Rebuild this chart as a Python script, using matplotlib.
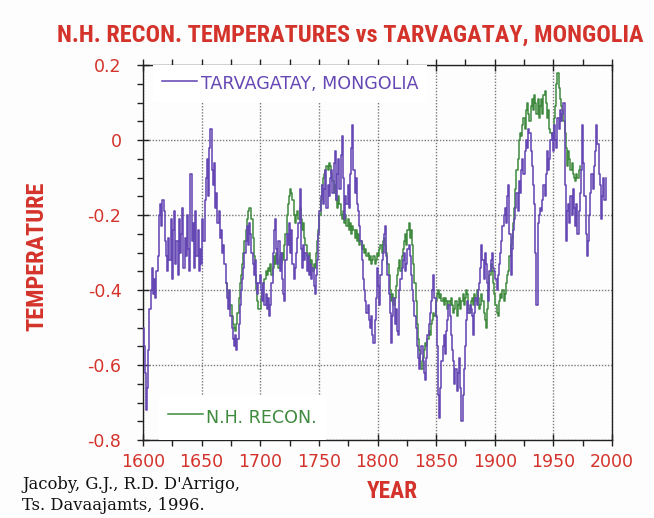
import matplotlib
matplotlib.use("Agg")
import matplotlib.pyplot as plt
from matplotlib import font_manager
from matplotlib.ticker import MultipleLocator, FixedLocator, FixedFormatter
import numpy as np

# ---- data -------------------------------------------------------------
tarv_first_year = 1600
tarvagatay = [
    -0.50, -0.55, -0.62, -0.72, -0.66, -0.56, -0.45, -0.40, -0.34, -0.41,
    -0.37, -0.42, -0.35, -0.31, -0.20, -0.17, -0.23, -0.16, -0.19, -0.27,
    -0.31, -0.35, -0.26, -0.32, -0.21, -0.37, -0.24, -0.19, -0.33, -0.27,
    -0.36, -0.21, -0.30, -0.25, -0.18, -0.34, -0.26, -0.31, -0.20, -0.29,
    -0.35, -0.09, -0.27, -0.22, -0.34, -0.19, -0.31, -0.24, -0.35, -0.29,
    -0.33, -0.21, -0.27, -0.16, -0.10, -0.05, -0.15, -0.02, 0.03, -0.08,
    -0.12, -0.06, -0.18, -0.14, -0.22, -0.19, -0.26, -0.24, -0.30, -0.28,
    -0.33, -0.38, -0.42, -0.45, -0.40, -0.47, -0.50, -0.53, -0.55, -0.52,
    -0.56, -0.53, -0.49, -0.44, -0.40, -0.37, -0.34, -0.30, -0.27, -0.23,
    -0.28, -0.22, -0.25, -0.30, -0.33, -0.36, -0.32, -0.38, -0.41, -0.38,
    -0.36, -0.40, -0.43, -0.38, -0.44, -0.41, -0.45, -0.42, -0.47, -0.44,
    -0.38, -0.30, -0.24, -0.21, -0.29, -0.33, -0.27, -0.35, -0.30, -0.37,
    -0.41, -0.43, -0.32, -0.25, -0.28, -0.22, -0.30, -0.24, -0.33, -0.37,
    -0.34, -0.30, -0.26, -0.22, -0.13, -0.29, -0.34, -0.28, -0.32, -0.30,
    -0.35, -0.31, -0.36, -0.33, -0.37, -0.34, -0.39, -0.41, -0.36, -0.32,
    -0.25, -0.19, -0.15, -0.12, -0.17, -0.13, -0.08, -0.18, -0.12, -0.15,
    -0.10, -0.08, -0.14, -0.06, -0.03, -0.16, -0.09, -0.05, -0.13, -0.04,
    0.01, -0.10, -0.21, -0.15, -0.17, -0.12, -0.18, -0.09, -0.02, 0.04,
    -0.08, -0.14, -0.10, -0.17, -0.19, -0.23, -0.27, -0.32, -0.37, -0.40,
    -0.43, -0.46, -0.44, -0.48, -0.50, -0.47, -0.52, -0.54, -0.48, -0.42,
    -0.34, -0.39, -0.44, -0.36, -0.32, -0.30, -0.25, -0.23, -0.31, -0.36,
    -0.41, -0.46, -0.54, -0.47, -0.42, -0.49, -0.45, -0.51, -0.52, -0.40,
    -0.37, -0.34, -0.32, -0.30, -0.35, -0.33, -0.29, -0.28, -0.31, -0.36,
    -0.40, -0.43, -0.47, -0.50, -0.55, -0.58, -0.61, -0.57, -0.55, -0.59,
    -0.62, -0.64, -0.58, -0.52, -0.49, -0.46, -0.43, -0.40, -0.36, -0.42,
    -0.47, -0.55, -0.68, -0.74, -0.66, -0.59, -0.55, -0.52, -0.57, -0.51,
    -0.48, -0.44, -0.47, -0.52, -0.56, -0.59, -0.65, -0.61, -0.67, -0.62,
    -0.58, -0.66, -0.75, -0.68, -0.61, -0.55, -0.48, -0.43, -0.46, -0.44,
    -0.45, -0.47, -0.52, -0.46, -0.42, -0.44, -0.40, -0.38, -0.34, -0.28,
    -0.32, -0.37, -0.30, -0.33, -0.38, -0.43, -0.35, -0.32, -0.30, -0.34,
    -0.35, -0.37, -0.40, -0.36, -0.33, -0.30, -0.27, -0.23, -0.20, -0.18,
    -0.22, -0.15, -0.12, -0.25, -0.36, -0.29, -0.24, -0.21, -0.18, -0.14,
    -0.19, -0.11, -0.14, -0.08, -0.05, -0.09, -0.03, 0.00, -0.02, 0.03,
    0.02, -0.03, -0.07, -0.12, -0.17, -0.30, -0.44, -0.22, -0.20, -0.18,
    -0.19, -0.16, -0.12, -0.15, -0.09, -0.03, -0.08, -0.05, 0.00, 0.02,
    -0.03, 0.04, 0.00, -0.02, 0.06, 0.03, 0.08, 0.05, 0.07, 0.10,
    -0.12, -0.27, -0.19, -0.17, -0.22, -0.15, -0.20, -0.13, -0.18, -0.23,
    -0.17, -0.25, -0.19, -0.14, -0.08, 0.04, -0.06, -0.15, -0.25, -0.31,
    -0.27, -0.20, -0.14, -0.09, -0.13, -0.07, -0.03, 0.04, -0.01, -0.09,
    -0.12, -0.21, -0.15, -0.10, -0.16, -0.10,
]

nh_first_year = 1671
nh_recon = [
    -0.38, -0.40, -0.42, -0.45, -0.44, -0.47, -0.49, -0.50, -0.51,
    -0.49, -0.46, -0.42, -0.38, -0.36, -0.33, -0.30, -0.27, -0.24, -0.21,
    -0.19, -0.18, -0.18, -0.21, -0.26, -0.31, -0.36, -0.40, -0.43, -0.45,
    -0.45, -0.42, -0.40, -0.38, -0.37, -0.35, -0.36, -0.34, -0.35, -0.33,
    -0.36, -0.34, -0.31, -0.33, -0.30, -0.32, -0.34, -0.31, -0.33, -0.30,
    -0.32, -0.28, -0.25, -0.20, -0.17, -0.15, -0.13, -0.14, -0.16, -0.20,
    -0.22, -0.20, -0.19, -0.21, -0.18, -0.21, -0.24, -0.22, -0.26, -0.28,
    -0.31, -0.33, -0.30, -0.34, -0.32, -0.35, -0.33, -0.34, -0.30, -0.27,
    -0.24, -0.20, -0.16, -0.12, -0.10, -0.09, -0.08, -0.07, -0.08, -0.06,
    -0.07, -0.09, -0.11, -0.14, -0.12, -0.16, -0.18, -0.15, -0.17, -0.20,
    -0.21, -0.19, -0.22, -0.20, -0.23, -0.21, -0.24, -0.22, -0.25, -0.23,
    -0.24, -0.26, -0.24, -0.27, -0.25, -0.28, -0.27, -0.29, -0.28, -0.30,
    -0.29, -0.31, -0.30, -0.32, -0.31, -0.33, -0.32, -0.31, -0.33, -0.32,
    -0.30, -0.31, -0.29, -0.28, -0.30, -0.27, -0.26, -0.28, -0.30, -0.33,
    -0.36, -0.40, -0.43, -0.41, -0.44, -0.42, -0.39, -0.36, -0.34, -0.32,
    -0.35, -0.31, -0.29, -0.27, -0.25, -0.28, -0.24, -0.22, -0.26, -0.24,
    -0.28, -0.33, -0.38, -0.43, -0.49, -0.53, -0.56, -0.59, -0.61, -0.58,
    -0.56, -0.54, -0.55, -0.53, -0.51, -0.52, -0.49, -0.48, -0.46, -0.47,
    -0.43, -0.41, -0.40, -0.42, -0.41, -0.43, -0.42, -0.44, -0.42, -0.43,
    -0.45, -0.43, -0.44, -0.42, -0.44, -0.46, -0.45, -0.43, -0.47, -0.44,
    -0.42, -0.45, -0.43, -0.41, -0.44, -0.42, -0.40, -0.41, -0.45, -0.46,
    -0.43, -0.42, -0.44, -0.41, -0.43, -0.40, -0.42, -0.45, -0.44, -0.41,
    -0.43, -0.46, -0.48, -0.50, -0.45, -0.40, -0.36, -0.33, -0.35, -0.38,
    -0.41, -0.44, -0.46, -0.47, -0.43, -0.41, -0.42, -0.40, -0.43, -0.41,
    -0.38, -0.36, -0.35, -0.31, -0.28, -0.26, -0.22, -0.18, -0.13, -0.08,
    -0.05, 0.00, 0.02, 0.01, 0.04, 0.06, 0.03, 0.08, 0.10, 0.07,
    0.05, 0.09, 0.11, 0.08, 0.12, 0.10, 0.07, 0.11, 0.06, 0.09,
    0.11, 0.07, 0.12, 0.13, 0.10, 0.06, 0.08, 0.03, 0.02, 0.01,
    0.02, 0.06, 0.09, 0.15, 0.18, 0.14, 0.11, 0.09, 0.08, 0.05,
    0.02, -0.02, -0.07, -0.03, -0.05, -0.08, -0.06, -0.09, -0.10, -0.11,
    -0.09, -0.10, -0.08, -0.07,
]

year_ticks = [1600, 1650, 1700, 1750, 1800, 1850, 1900, 1950, 2000]
temp_ticks = [-0.8, -0.6, -0.4, -0.2, 0.0, 0.2]
temp_tick_labels = ["-0.8", "-0.6", "-0.4", "-0.2", "0", "0.2"]

title_text = "N.H. RECON. TEMPERATURES vs TARVAGATAY, MONGOLIA"
tarv_label = "TARVAGATAY, MONGOLIA"
nh_label = "N.H. RECON."
citation = "Jacoby, G.J., R.D. D'Arrigo,\nTs. Davaajamts, 1996."

# ---- style ------------------------------------------------------------
RED = "#d4332b"
PURPLE = "#6648b4"
GREEN = "#3f8a3f"

available = {f.name for f in font_manager.fontManager.ttflist}


def first_font(*names):
    for n in names:
        if n in available:
            return n
    return "DejaVu Sans"


narrow = first_font("DejaVu Sans Condensed", "Liberation Sans Narrow",
                    "Roboto Condensed", "Open Sans Condensed", "Roboto")
narrow_kw = dict(family=narrow, fontweight="bold")

W, H = 654, 518
fig = plt.figure(figsize=(W / 100, H / 100), dpi=100, facecolor="#fdfdfd")
ax = fig.add_axes([143 / W, 1 - 440 / H, 469 / W, 375 / H])
ax.set_facecolor("#fdfdfd")

t_years = np.arange(tarv_first_year, tarv_first_year + len(tarvagatay))
n_years = np.arange(nh_first_year, nh_first_year + len(nh_recon))

nh_line, = ax.plot(n_years, nh_recon, color=GREEN, lw=1.1,
                   drawstyle="steps-mid", zorder=2)
tarv_line, = ax.plot(t_years, tarvagatay, color=PURPLE, lw=1.15,
                     drawstyle="steps-mid", zorder=3)

ax.set_xlim(1600, 2000)
ax.set_ylim(-0.8, 0.2)

ax.xaxis.set_major_locator(FixedLocator(year_ticks))
ax.xaxis.set_minor_locator(MultipleLocator(25))
ax.yaxis.set_major_locator(FixedLocator(temp_ticks))
ax.yaxis.set_major_formatter(FixedFormatter(temp_tick_labels))
ax.yaxis.set_minor_locator(MultipleLocator(0.05))

ax.tick_params(which="major", direction="inout", length=9, width=1,
               color="#222222", labelcolor=RED, labelsize=12.5,
               top=True, right=False)
ax.tick_params(which="minor", direction="out", length=4, width=1,
               color="#222222", top=True, right=False)
ax.tick_params(axis="x", which="major", pad=5)
ax.tick_params(axis="y", which="major", pad=11)

for s in ax.spines.values():
    s.set_color("#222222")
    s.set_linewidth(1.0)

ax.set_axisbelow(True)
ax.grid(True, which="major", color="#7a7a7a", lw=1.0, ls=(0, (1, 1.2)))

# legends: one in the upper left, one in the lower left
leg_font = dict(family="DejaVu Sans", size=12.6)
common = dict(borderaxespad=0, borderpad=0.5, handlelength=2.0,
              handletextpad=0.2, frameon=True, fancybox=False,
              facecolor="white", edgecolor="none", framealpha=1,
              prop=leg_font)
leg1 = ax.legend([tarv_line], [tarv_label], loc="upper left",
                 bbox_to_anchor=(0.022, 1.0), handleheight=1.3,
                 labelcolor=PURPLE, **common)
ax.add_artist(leg1)
leg2 = ax.legend([nh_line], [nh_label], loc="lower left",
                 bbox_to_anchor=(0.034, 0.0), handleheight=2.0,
                 labelcolor=GREEN, **common)

xl = ax.set_xlabel("YEAR", color=RED, fontsize=16, **narrow_kw)
ax.xaxis.set_label_coords((392 - 143) / 469, (440 - 492) / 375)
xl.set_va("center")
yl = ax.set_ylabel("TEMPERATURE", color=RED, fontsize=16, **narrow_kw)
ax.yaxis.set_label_coords((37 - 143) / 469, 0.49)
yl.set_va("center")

title = fig.text(350 / W, 1 - 35 / H, title_text, ha="center", va="center",
                 color=RED, fontsize=16, **narrow_kw)

fig.text(22 / W, 1 - 495 / H, citation, ha="left", va="center",
         family="DejaVu Serif", fontsize=11.8, color="#111111",
         linespacing=1.3)

# size the heading texts so that they span their intended lengths
renderer = fig.canvas.get_renderer()
for txt, target, along in ((title, 587, "w"), (xl, 51, "w"), (yl, 150, "h")):
    bb = txt.get_window_extent(renderer)
    cur = bb.width if along == "w" else bb.height
    txt.set_fontsize(txt.get_fontsize() * target / cur)

fig.savefig("out.png", dpi=100, facecolor=fig.get_facecolor())
